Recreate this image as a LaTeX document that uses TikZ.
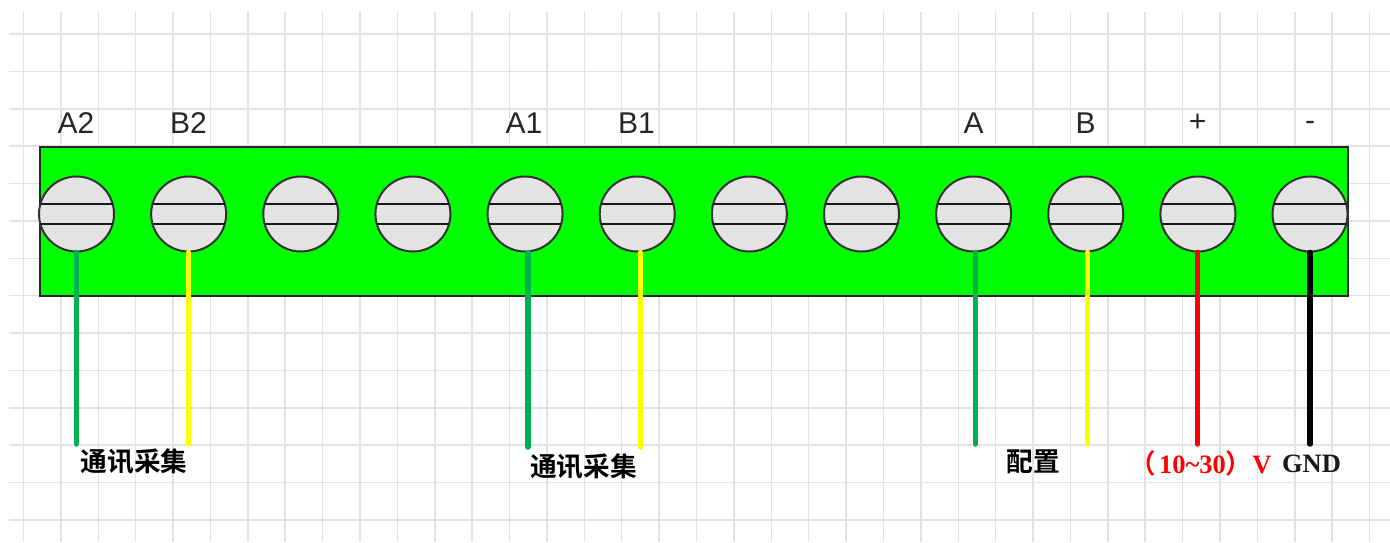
\documentclass[tikz,border=0pt]{standalone}
\usepackage{fontspec}
\setmainfont{Liberation Serif}
\newfontfamily\arialf{Liberation Sans}
\newfontfamily\cjkf{Noto Sans CJK SC}[BoldFont={* Bold}]
\usetikzlibrary{calc}
\definecolor{gridc}{HTML}{E2E2E2}
\definecolor{boardc}{HTML}{00FF00}
\definecolor{screwc}{HTML}{E3E3E3}
\definecolor{wiregreen}{HTML}{00B050}
\definecolor{wireyellow}{HTML}{FFFF00}
\definecolor{wirered}{HTML}{FF0000}
\tikzset{
  gridline/.style={draw=gridc,line width=1.5pt},
  board/.style={draw=black!85,fill=boardc,line width=2pt,rectangle,minimum width=1308pt,minimum height=149.5pt,inner sep=0pt},
  screw/.style={draw=black!80,fill=screwc,line width=2pt,circle,minimum size=75pt,inner sep=0pt},
  slot/.style={draw=black!90,line width=2pt},
  wire/.style={line width=5.5pt,line cap=round},
  pinlabel/.style={font=\arialf\fontsize{30}{36}\selectfont,text=black!85,inner sep=0pt},
  cjklabel/.style={font=\cjkf\bfseries\fontsize{26.7}{30}\selectfont,text=black,inner sep=0pt},
  valuelabel/.style={font=\bfseries\fontsize{26.5}{30}\selectfont,inner sep=0pt},
}
\begin{document}
\begin{tikzpicture}[x=1pt,y=-1pt]
\useasboundingbox (0,0) rectangle (1390,542);
% grid
\foreach \i in {0,...,36}{
  \draw[gridline] ({23.5+\i*37.39},12) -- ({23.5+\i*37.39},542);
}
\foreach \j in {0,...,13}{
  \draw[gridline] (9,{34+\j*37.38}) -- (1390,{34+\j*37.38});
}
% board
\node[board] (board) at (693.5,221.25) {};
% screws
\foreach \k in {1,...,12}{
  \node[screw] (s\k) at ({76.5+(\k-1)*112.14},214) {};
  \draw[slot] ($(s\k.center)+(-36,-10)$) -- ($(s\k.center)+(36,-10)$);
  \draw[slot] ($(s\k.center)+(-36,9.5)$) -- ($(s\k.center)+(36,9.5)$);
}
% free wire ends
\coordinate (e1) at (76.5,444);
\coordinate (e2) at (188.7,444);
\coordinate (e5) at (528,447);
\coordinate (e6) at (640.5,447);
\coordinate (e9) at (975.5,444);
\coordinate (e10) at (1087.5,444);
\coordinate (e11) at (1197.5,444);
\coordinate (e12) at (1310,444);
% wires
\draw[wire,wiregreen] (e1 |- s1.south) -- (e1);
\draw[wire,wireyellow] (e2 |- s2.south) -- (e2);
\draw[wire,wiregreen] (e5 |- s5.south) -- (e5);
\draw[wire,wireyellow] (e6 |- s6.south) -- (e6);
\draw[wire,wiregreen] (e9 |- s9.south) -- (e9);
\draw[wire,wireyellow] (e10 |- s10.south) -- (e10);
\draw[wire,wirered] (e11 |- s11.south) -- (e11);
\draw[wire,black] (e12 |- s12.south) -- (e12);
% pin labels
\node[pinlabel] (la2) at (76,123) {A2};
\node[pinlabel] (lb2) at (188.5,123) {B2};
\node[pinlabel] (la1) at (524,123) {A1};
\node[pinlabel] (lb1) at (636.5,123) {B1};
\node[pinlabel] (la) at (973.5,123) {A};
\node[pinlabel] (lb) at (1085.5,123) {B};
\node[pinlabel] (lplus) at (1197.5,123) {+};
\node[pinlabel] (lminus) at (1310,126) {-};
% bottom labels
\node[cjklabel] (t1) at (134,462) {通讯采集};
\node[cjklabel] (t2) at (583.5,467) {通讯采集};
\node[cjklabel] (t3) at (1033,462) {配置};
\node[valuelabel,text=wirered] (t4) at (1200.5,463) {{\cjkf\bfseries （}\hspace{3pt}10\char`~30{\cjkf\bfseries ）}V};
\node[valuelabel,text=black!90] (t5) at (1311.5,464) {GND};
\end{tikzpicture}
\end{document}
